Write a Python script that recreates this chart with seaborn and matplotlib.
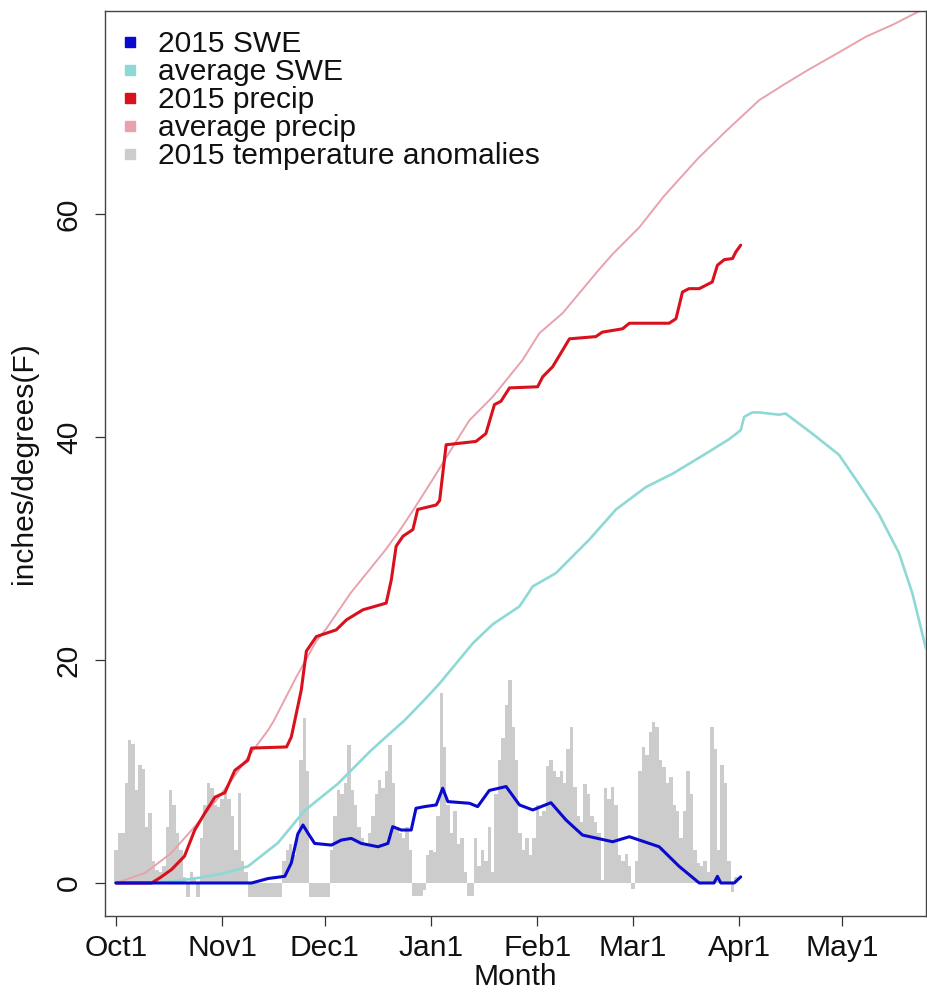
import numpy as np
import pandas as pd
import matplotlib
matplotlib.use("Agg")
import matplotlib.pyplot as plt
from matplotlib.lines import Line2D
import seaborn as sns

# ---- data (day 0 = Oct 1, 2014) ----
# 2015 daily temperature anomalies (F), Oct 1 .. Apr 1
temp_anom = [
    3, 4.5, 4.5, 9, 12.8, 12.5, 8.3, 10.6, 10.2, 5,
    6.3, 2, 1.2, 1.0, 1.5, 5, 8.3, 7, 4.5, 3,
    0.5, -1.3, 1, 0.5, -1.3, 4, 7, 9, 8.5, 7,
    6.8, 7.5, 8.1, 7.5, 6, 3, 8.1, 2, 1, -1.3,
    -1.3, -1.3, -1.3, -1.3, -1.3, -1.3, -1.3, -1.3, -1.3,
    2, 3, 3.5, 2.5, 4, 11, 14.8, 10, -1.3, -1.3, -1.3, -1.3, -1.3, -1.3,
    3, 6, 8.3, 8, 9, 12.4, 8.3, 7, 5, 4, 3.5, 4.5,
    6, 8, 9.2, 8.5, 10, 12.4, 9, 5, 4.5, 4, 5, 3,
    -1.2, -1.2, -1.2, -0.6,
    2.5, 3, 2.8, 6, 17.0, 12.2, 7, 4.5, 6.5, 3.5, 4, 1, -1.2, -1.2,
    4, 1.5, 3, 2, 5, 1, 8, 11, 13, 16, 18.2, 14, 11,
    4.5, 3, 4, 2.5, 4, 7, 6, 6.5, 10.5, 11, 10, 9.5, 10,
    9, 12, 14, 8.6, 6, 5.5, 8.9, 8, 6, 5.5, 4.5, 0.3,
    8.5, 7.5, 8.6, 7, 2.5, 2, 2.6, 1.5, -0.5, 2,
    10, 12.2, 11.5, 13.5, 14.4, 14.0, 11, 10.4, 9, 9.5,
    7, 6.5, 4, 6.5, 10, 8, 3, 1.8, 1.5, 2, 1,
    14, 12, 3, 10.6, 9, 2, -0.8, 0.5, 0,
]
temp_days = list(range(len(temp_anom)))

# average cumulative precipitation (inches)
avg_precip_days = [0, 8.5, 16, 23, 30.8, 38.6, 44.4, 46, 52.7, 58.5, 61.4, 68.5,
                   78.5, 82.8, 86.7, 92.5, 98.3, 103.2, 110, 118.7, 123.6, 130.4,
                   137.2, 141, 145, 152.8, 160, 170, 178, 187.8, 195, 202, 210,
                   219, 227, 234, 237]
avg_precip = [0, 0.9, 2.65, 5.05, 8.0, 11.3, 13.7, 14.5, 18.5, 21.7, 22.8, 26.0,
              29.8, 31.6, 33.4, 36.2, 39.1, 41.5, 43.6, 46.9, 49.3, 51.1,
              53.6, 55.0, 56.4, 58.8, 61.6, 65.0, 67.4, 70.2, 71.6, 72.9, 74.3,
              75.9, 77.0, 78.1, 78.5]

# average snow water equivalent (inches)
avg_swe_days = [0, 10, 18, 25, 32, 38.6, 47.3, 55.1, 64.8, 74.5, 84.3, 90, 94.5,
                104.2, 110, 117.8, 121.7, 128.5, 138.2, 146, 154.7, 162.5, 172.2,
                179, 182.4, 183.4, 185.8, 187.8, 193.6, 195.5, 203.3, 211.1,
                216.9, 222.7, 228.6, 232.5, 236.5]
avg_swe = [0, 0, 0.2, 0.5, 0.9, 1.5, 3.6, 6.5, 8.9, 11.9, 14.6, 16.4, 17.9,
           21.5, 23.2, 24.8, 26.6, 27.8, 30.8, 33.5, 35.5, 36.7, 38.5,
           39.8, 40.6, 41.8, 42.2, 42.2, 42.0, 42.1, 40.3, 38.4,
           35.8, 33.1, 29.6, 26.0, 21.0]

# 2015 cumulative precipitation (inches)
precip_days = [0, 10.4, 13, 16.2, 20, 23, 26, 28.9, 31.8, 34.7, 38.5, 39.6,
               49.8, 51.2, 54.1, 55.6, 58.5, 64.3, 67.3, 72.1, 78.9, 80.4,
               81.8, 83.8, 86.7, 88.1, 93.5, 94.5, 96.4, 105.1, 108, 110.5,
               112.4, 114.9, 123.1, 124.6, 127.5, 132.4, 140.1, 142, 147.9,
               149.9, 161.5, 163.5, 165.4, 167.3, 170.3, 174.1, 175.6, 177.6,
               180, 181, 182.4]
precip = [0, 0, 0.5, 1.2, 2.4, 4.75, 6.3, 7.7, 8.1, 10.1, 11.0, 12.1,
          12.2, 13.1, 17.3, 20.8, 22.1, 22.7, 23.6, 24.5, 25.1, 27.2,
          30.2, 31.1, 31.7, 33.5, 33.9, 34.3, 39.3, 39.6, 40.3, 42.9,
          43.2, 44.4, 44.5, 45.4, 46.3, 48.8, 49.0, 49.4, 49.7,
          50.2, 50.2, 50.6, 53.0, 53.3, 53.3, 53.9, 55.4, 55.9,
          56.0, 56.6, 57.2]

# 2015 snow water equivalent (inches)
swe_days = [0, 39.6, 44.4, 49.3, 51.2, 53.1, 54.6, 56.1, 58, 62.9, 65.8, 68.7,
            71.6, 76.5, 79.4, 80.8, 83.3, 86.2, 87.6, 90.1, 93.5, 95.4, 96.9,
            103.2, 105.6, 109, 113.9, 117.8, 121.7, 127, 131.4, 136.2, 145,
            149.9, 158.6, 164.4, 170.3, 174.6, 175.6, 176.6, 180.5, 182.4]
swe = [0, 0, 0.4, 0.6, 1.8, 4.4, 5.2, 4.45, 3.55, 3.4, 3.85, 4.0,
       3.55, 3.25, 3.55, 5.05, 4.75, 4.75, 6.7, 6.85, 7.0, 8.5, 7.3,
       7.15, 6.85, 8.3, 8.65, 7.0, 6.55, 7.2, 5.65, 4.3, 3.7,
       4.15, 3.25, 1.5, 0, 0, 0.6, 0, 0, 0.55]

month_ticks = [0, 31, 61, 92, 123, 151, 182, 212]
month_labels = ["Oct1", "Nov1", "Dec1", "Jan1", "Feb1", "Mar1", "Apr1", "May1"]
y_ticks = [0, 20, 40, 60]

series_labels = ["2015 SWE", "average SWE", "2015 precip", "average precip",
                 "2015 temperature anomalies"]

# ---- style ----
sns.set_theme(style="white")
plt.rcParams["font.family"] = ["Liberation Sans", "DejaVu Sans"]
FS = 21.6

C_SWE = "#0A0ACF"
C_AVG_SWE = "#8ED9D6"
C_PRECIP = "#D8111C"
C_AVG_PRECIP = "#E9A2AC"
C_TEMP = "#CCCCCC"

fig = plt.figure(figsize=(9.28, 9.94), dpi=100)
ax = fig.add_axes([105 / 928, 1 - 916 / 994, 821 / 928, 905 / 994])

# temperature anomaly bars
temp_df = pd.DataFrame({"day": temp_days, "anom": temp_anom})
ax.bar(temp_df["day"], temp_df["anom"], width=1.0, color=C_TEMP,
       linewidth=0, zorder=1)

def draw_line(days, vals, color, lw, z):
    df = pd.DataFrame({"day": days, "val": vals})
    sns.lineplot(data=df, x="day", y="val", color=color, linewidth=lw,
                 sort=False, estimator=None, ax=ax, zorder=z)

draw_line(avg_precip_days, avg_precip, C_AVG_PRECIP, 1.4, 2)
draw_line(avg_swe_days, avg_swe, C_AVG_SWE, 1.9, 3)
draw_line(precip_days, precip, C_PRECIP, 2.2, 4)
draw_line(swe_days, swe, C_SWE, 2.2, 5)

ax.set_xlim(-3.2, 236.5)
ax.set_ylim(-2.96, 78.2)

ax.set_xticks(month_ticks)
ax.set_xticklabels(month_labels)
ax.set_yticks(y_ticks)
ax.set_yticklabels([str(v) for v in y_ticks], rotation=90, va="center")
ax.tick_params(axis="both", which="major", direction="out", length=7,
               width=0.9, color="#333333", labelsize=FS, labelcolor="#111111",
               left=True, bottom=True)
ax.tick_params(axis="x", pad=6)
ax.tick_params(axis="y", pad=9)

ax.set_xlabel("Month", fontsize=FS, color="#111111", labelpad=1)
ax.set_ylabel("inches/degrees(F)", fontsize=FS, color="#111111", labelpad=12)

for side in ["left", "right", "top", "bottom"]:
    ax.spines[side].set_visible(True)
    ax.spines[side].set_color("#444444")
    ax.spines[side].set_linewidth(1.0)

handles = [Line2D([], [], linestyle="none", marker="s", markersize=7,
                  markerfacecolor=c, markeredgecolor=c)
           for c in [C_SWE, C_AVG_SWE, C_PRECIP, C_AVG_PRECIP, C_TEMP]]
ax.legend(handles, series_labels, loc="upper left",
          bbox_to_anchor=((115 - 105) / 821, (916 - 30) / 905),
          frameon=False, fontsize=FS, handlelength=1.0, handletextpad=0.45,
          labelspacing=0.0, borderpad=0, borderaxespad=0,
          labelcolor="#111111")

fig.savefig("out.png", dpi=100)
